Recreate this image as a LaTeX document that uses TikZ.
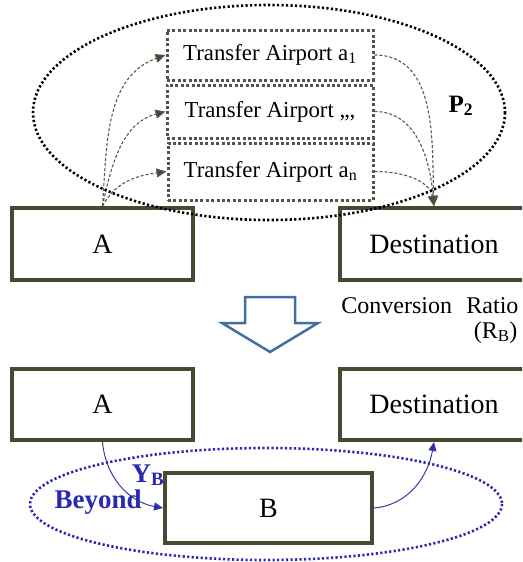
\documentclass[tikz,border=0pt]{standalone}
\usepackage{fontspec}
\setmainfont{Liberation Serif}
\usetikzlibrary{arrows.meta}
\definecolor{boxline}{HTML}{4A4733}
\definecolor{hubline}{HTML}{55534A}
\definecolor{flowline}{HTML}{5A5848}
\definecolor{beyondblue}{HTML}{2A2AB0}
\definecolor{linkblue}{HTML}{3A3AA0}
\definecolor{tipblue}{HTML}{1A2AD0}
\definecolor{steel}{HTML}{41709F}
\begin{document}
\begin{tikzpicture}[x=1pt,y=-1pt,
  cityboxstyle/.style={draw=boxline,line width=4pt,inner sep=0pt,
    font=\fontsize{28}{32}\selectfont},
  hubboxstyle/.style={draw=hubline,line width=3pt,
    dash pattern=on 3pt off 2.4pt,inner sep=0pt,minimum width=206pt,
    font=\fontsize{22.8}{26}\selectfont},
  flowstyle/.style={draw=flowline,line width=1.1pt,dash pattern=on 3pt off 2pt,
    -{Triangle[length=10pt,width=9pt,fill=boxline]}},
  linkstyle/.style={draw=linkblue,line width=1pt,
    -{Triangle[length=9pt,width=8pt,fill=tipblue]}},
  regionstyle/.style={line width=2.6pt,dash pattern=on 2.2pt off 2.3pt},
  labelstyle/.style={font=\fontsize{24}{28}\selectfont}]
\clip (0,0) rectangle (522,562);

% upper network: origin, destination and transfer airports
\node[cityboxstyle,minimum width=181pt,minimum height=72pt] (A1) at (102.5,244) {A};
\node[cityboxstyle,minimum width=188pt,minimum height=72pt] (D1) at (434,244) {Destination};
\node[hubboxstyle,minimum height=50pt] (T1) at (270,55) {Transfer Airport a\textsubscript{1}};
\node[hubboxstyle,minimum height=53pt] (T2) at (270,111.5) {Transfer Airport ,,,};
\node[hubboxstyle,minimum width=205pt,minimum height=57pt] (T3) at (270.5,171.5) {Transfer Airport a\textsubscript{n}};

\draw[flowstyle] (A1.north) to[out=86,in=200] (T1.west);
\draw[flowstyle] (A1.north) to[out=78,in=195] (T2.west);
\draw[flowstyle] (A1.north) to[out=62,in=188] (T3.west);
\draw[flowstyle] (T1.east) to[out=0,in=92] (D1.north);
\draw[flowstyle] (T2.east) to[out=0,in=95] (D1.north);
\draw[flowstyle] (T3.east) to[out=0,in=100] (D1.north);

\draw[regionstyle,black] (269,112.5) ellipse [x radius=236, y radius=107.5];
\node[font=\fontsize{25}{28}\selectfont\bfseries,anchor=base west] (P2) at (445,112) {P\textsubscript{2}};

% conversion step
\draw[steel,line width=2.5pt,line join=miter]
  (245,297) -- (295,297) -- (295,323) -- (318,323) -- (270,352)
  -- (222,323) -- (245,323) -- cycle;
\node[labelstyle,anchor=base east] (CR) at (522,313) {Conversion\hspace{0.6em}Ratio};
\node[labelstyle,anchor=base east] (RB) at (521,338) {(R\textsubscript{B})};

% lower network: beyond airport B
\node[cityboxstyle,minimum width=181pt,minimum height=71pt] (A2) at (102.5,404.5) {A};
\node[cityboxstyle,minimum width=188pt,minimum height=71pt] (D2) at (434,404.5) {Destination};
\node[cityboxstyle,minimum width=207pt,minimum height=70pt] (B) at (268.5,508) {B};

\draw[regionstyle,beyondblue] (266,504) ellipse [x radius=236, y radius=56];

\draw[linkstyle] (A2.south) to[out=-85,in=170] (B.west);
\draw[linkstyle] (B.east) to[out=5,in=-100] (D2.south);

\node[font=\fontsize{27}{30}\selectfont\bfseries,text=beyondblue,anchor=base west] (YB) at (128,482) {Y\textsubscript{B}};
\node[font=\fontsize{27}{30}\selectfont\bfseries,text=beyondblue,anchor=base west] (BY) at (51,508) {Beyond};
\end{tikzpicture}
\end{document}
